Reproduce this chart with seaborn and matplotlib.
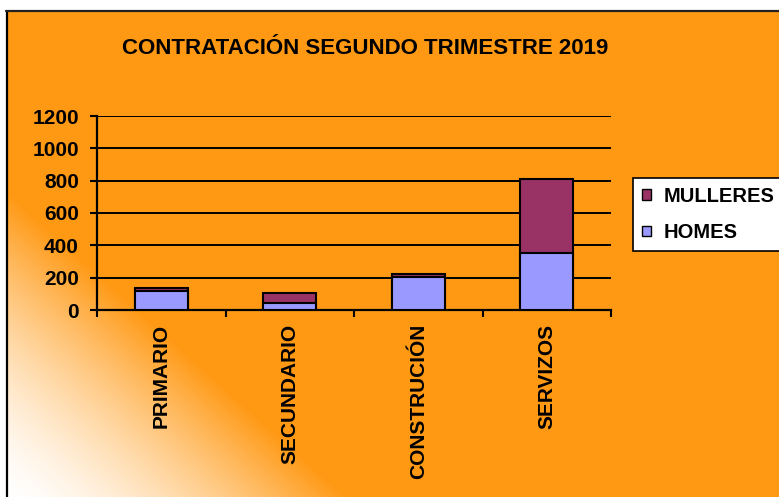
import numpy as np
import matplotlib
matplotlib.use("Agg")
import matplotlib.pyplot as plt
import seaborn as sns
from matplotlib.patches import Patch
from matplotlib.lines import Line2D

sectores = ["PRIMARIO", "SECUNDARIO", "CONSTRUCIÓN", "SERVIZOS"]
homes = [118, 45, 204, 354]
mulleres = [16, 62, 16, 457]
titulo = "CONTRATACIÓN SEGUNDO TRIMESTRE 2019"

col_homes = "#9999FF"
col_mulleres = "#993366"
laranxa = np.array([255, 153, 20]) / 255

sns.set_theme(style="white")
plt.rcParams["font.family"] = ["Liberation Sans", "DejaVu Sans"]
plt.rcParams["font.weight"] = "bold"
plt.rcParams["text.color"] = "black"
plt.rcParams["xtick.color"] = "black"
plt.rcParams["ytick.color"] = "black"

W, H = 779, 497
fig = plt.figure(figsize=(W / 100, H / 100), dpi=100, facecolor="white")

# fondo laranxa con degradado diagonal cara a branco na esquina inferior esquerda
bw, bh = W - 7, H - 12
xx, yy = np.meshgrid(np.arange(bw), np.arange(bh))
t = np.clip(xx / 340.0 + (bh - yy) / 305.0, 0, 1) ** 1.5
img = np.ones((bh, bw, 3)) * (1 - t[..., None]) + laranxa * t[..., None]
bg = fig.add_axes([7 / W, 0, bw / W, bh / H])
bg.imshow(img, aspect="auto", interpolation="bilinear")
bg.axis("off")
fig.add_artist(Line2D([6.5 / W, 6.5 / W], [0, 1 - 11 / H], color="black", lw=1.6))
fig.add_artist(Line2D([6 / W, 1], [1 - 11 / H, 1 - 11 / H], color="#222222", lw=1.6))

ax = fig.add_axes([97 / W, 1 - 310 / H, (611 - 97) / W, (310 - 116) / H])
ax.set_facecolor("none")

totais = [h + m for h, m in zip(homes, mulleres)]
sns.barplot(x=sectores, y=totais, color=col_mulleres, saturation=1, width=0.41,
            edgecolor="black", linewidth=1.5, errorbar=None, ax=ax, zorder=3)
sns.barplot(x=sectores, y=homes, color=col_homes, saturation=1, width=0.41,
            edgecolor="black", linewidth=1.5, errorbar=None, ax=ax, zorder=4)

ax.set_xlim(-0.5, 3.5)
ax.set_ylim(0, 1200)
ax.set_yticks(range(0, 1201, 200))
ax.yaxis.grid(True, color="black", lw=1.4)
ax.xaxis.grid(False)
ax.set_axisbelow(True)
for s in ["top", "right"]:
    ax.spines[s].set_visible(False)
for s in ["left", "bottom"]:
    ax.spines[s].set_color("black")
    ax.spines[s].set_linewidth(1.6)

ax.set_xticks(range(len(sectores)))
ax.set_xticklabels(sectores, rotation=90, fontsize=15, fontweight="bold", va="top", ha="center")
ax.set_xticks(np.arange(-0.5, len(sectores), 1), minor=True)
ax.tick_params(axis="x", which="major", length=0, pad=10)
ax.tick_params(axis="x", which="minor", length=5, width=1.5, color="black", direction="out", bottom=True)
ax.tick_params(axis="y", length=5, width=1.5, color="black", direction="out", left=True, pad=8, labelsize=15)
for lab in ax.get_yticklabels():
    lab.set_fontweight("bold")
ax.set_xlabel("")
ax.set_ylabel("")

fig.text(365 / W, 1 - 48 / H, titulo, ha="center", va="center", fontsize=16, fontweight="bold")

leg = fig.legend(
    [Patch(facecolor=col_mulleres, edgecolor="black"), Patch(facecolor=col_homes, edgecolor="black")],
    ["MULLERES", "HOMES"],
    loc="upper left", bbox_to_anchor=(633 / W, 1 - 178 / H), borderaxespad=0,
    frameon=True, fancybox=False, framealpha=1, edgecolor="black", facecolor="white",
    prop={"weight": "bold", "size": 14.5}, handlelength=0.45, handleheight=0.45,
    handletextpad=0.6, borderpad=0.45, labelspacing=0.85,
)
leg.get_frame().set_linewidth(1.2)

fig.savefig("out.png", dpi=100, facecolor="white")
